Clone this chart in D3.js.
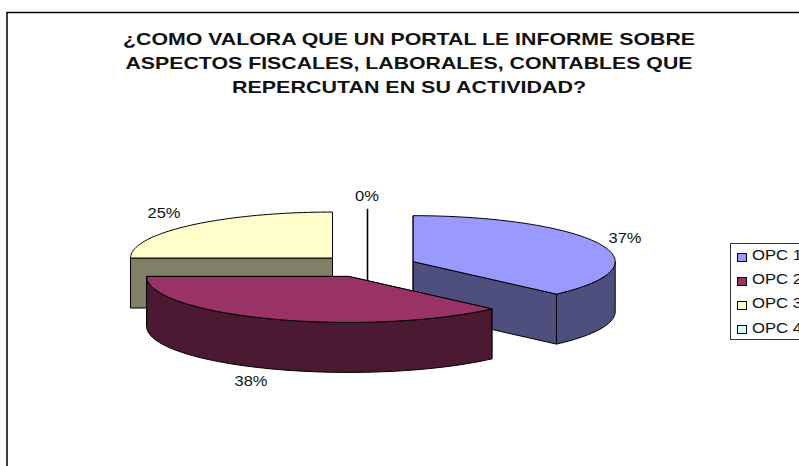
<!DOCTYPE html>
<html><head><meta charset="utf-8">
<script src="https://cdn.jsdelivr.net/npm/d3@7"></script>
<style>html,body{margin:0;padding:0;background:#fff;overflow:hidden}text{font-family:"Liberation Sans",Arial,sans-serif;fill:#111}</style>
</head><body><svg id="c" width="799" height="466"></svg>
<script>
const categories = ["OPC 1","OPC 2","OPC 3","OPC 4"];
const values = [37.45,37.55,25.0,0];
const topColors = ["#9999FF","#993366","#FFFFCC","#CCFFFF"];
const sideColors = ["#4F4F7F","#4C1933","#808066","#668080"];
const titleLines = ["¿COMO VALORA QUE UN PORTAL LE INFORME SOBRE","ASPECTOS FISCALES, LABORALES, CONTABLES QUE","REPERCUTAN EN SU ACTIVIDAD?"];
const titleWidths = [572,567,354];

const svg = d3.select("#c");
svg.append("path").attr("d","M7,466V12.5H799").attr("fill","none").attr("stroke","#000").attr("stroke-width",1.5);

svg.selectAll("text.title").data(titleLines).join("text").attr("class","title")
  .attr("x",409).attr("y",(d,i)=>[45,68.5,93][i]).attr("text-anchor","middle")
  .attr("font-size",17).attr("font-weight","bold")
  .attr("textLength",(d,i)=>titleWidths[i]).attr("lengthAdjust","spacingAndGlyphs").text(d=>d);

const cx0=367.5, cy0=266, rx=202, ry=46, depth=50, explode=0.245;
const sx=d3.scaleLinear().domain([-1,1]).range([cx0-rx,cx0+rx]);
const sy=d3.scaleLinear().domain([-1,1]).range([cy0-ry,cy0+ry]);
const pie=d3.pie().sort(null).startAngle(0).endAngle(2*Math.PI).value(d=>d)(values);
const line=d3.line();
const pt=(c,a)=>[c[0]+rx*Math.sin(a), c[1]-ry*Math.cos(a)];
const arcPts=(c,a0,a1)=>{const n=Math.max(2,Math.ceil((a1-a0)/0.03));return d3.range(n+1).map(i=>pt(c,a0+(a1-a0)*i/n));};
const down=p=>[p[0],p[1]+depth];

const slices=pie.map((p,i)=>{const mid=(p.startAngle+p.endAngle)/2;
  return {i,a0:p.startAngle,a1:p.endAngle,v:p.value,
    c:[sx(explode*Math.sin(mid)),sy(-explode*Math.cos(mid))],mid};});
const order=[2,3,0,1];
const g=svg.append("g").attr("stroke","#000").attr("stroke-width",1).attr("stroke-linejoin","round");
order.forEach(k=>{const s=slices[k];
  if(s.v===0){
    const a=pt(s.c,s.a0),b=down(s.c);
    g.append("path").attr("d",line([a,s.c,b])).attr("fill","none").attr("stroke-width",1.6);
    return;
  }
  [s.a0,s.a1].forEach(a=>{
    const e=pt(s.c,a);
    g.append("path").attr("d",line([s.c,e,down(e),down(s.c)])+"Z").attr("fill",sideColors[k]);
  });
  const w0=Math.max(s.a0,Math.PI/2),w1=Math.min(s.a1,3*Math.PI/2);
  if(w1>w0){const t=arcPts(s.c,w0,w1);
    g.append("path").attr("d",line(t.concat(t.map(down).reverse()))+"Z").attr("fill",sideColors[k]);}
  g.append("path").attr("d",line([s.c].concat(arcPts(s.c,s.a0,s.a1)))+"Z").attr("fill",topColors[k]);
});

const labelPos=[[625,243],[251,386],[164,218],[367,201]];
const labelWidths=[33,33,33,24];
svg.selectAll("text.lab").data(slices).join("text").attr("class","lab")
  .attr("x",(d,i)=>labelPos[i][0]).attr("y",(d,i)=>labelPos[i][1]).attr("text-anchor","middle")
  .attr("font-size",15).attr("textLength",(d,i)=>labelWidths[i]).attr("lengthAdjust","spacingAndGlyphs")
  .text(d=>d3.format(".0f")(d.v)+"%");

const leg=svg.append("g");
leg.append("rect").attr("x",730.5).attr("y",243.5).attr("width",90).attr("height",96).attr("fill","#fff").attr("stroke","#333");
const ly=d3.scalePoint().domain(categories).range([256.5,329]);
categories.forEach((n,i)=>{
  leg.append("rect").attr("x",737.5).attr("y",Math.round(ly(n)-4)+.5).attr("width",9).attr("height",8).attr("fill",topColors[i]).attr("stroke","#000");
  leg.append("text").attr("x",752).attr("y",ly(n)+3.5).attr("font-size",15.5)
    .attr("textLength",50).attr("lengthAdjust","spacingAndGlyphs").text(n);
});
</script></body></html>
